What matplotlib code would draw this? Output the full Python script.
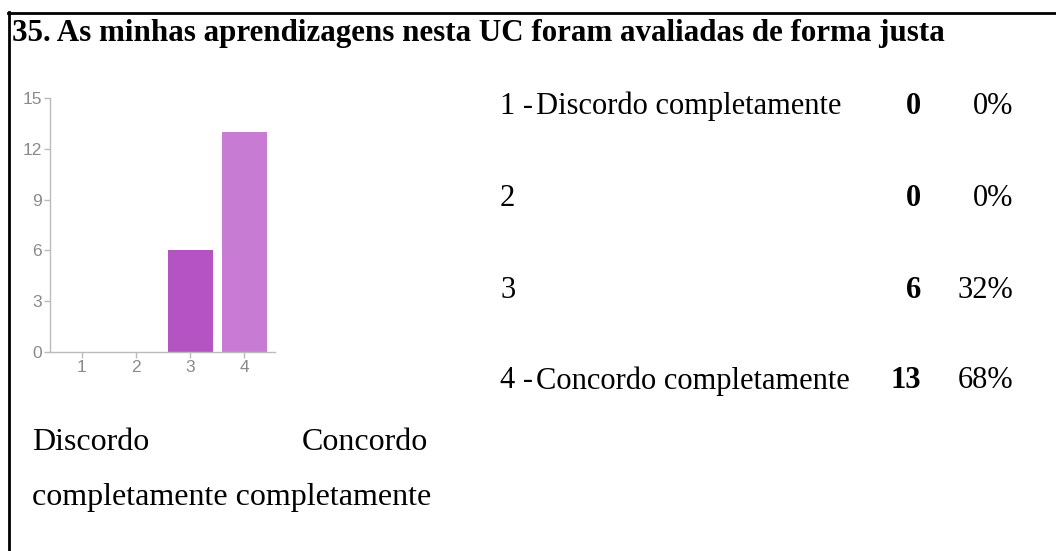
import matplotlib.pyplot as plt
from matplotlib.lines import Line2D

W, H = 1056, 551

title = "35. As minhas aprendizagens nesta UC foram avaliadas de forma justa"
categories = [1, 2, 3, 4]
counts = [0, 0, 6, 13]
bar_colors = ["#b553c5", "#b553c5", "#b553c5", "#c87bd3"]
row_labels = ["1 - Discordo completamente", "2", "3", "4 - Concordo completamente"]
percents = ["0%", "0%", "32%", "68%"]
yticks = [0, 3, 6, 9, 12, 15]


def fx(px):
    return px / W


def fy(py):
    return 1 - py / H


fig = plt.figure(figsize=(W / 100, H / 100), dpi=100)
serif = "Liberation Serif"
fs = 22

# frame lines (top + left only)
fig.add_artist(Line2D([fx(8), 1], [fy(12.5), fy(12.5)], color="black", lw=2))
fig.add_artist(Line2D([fx(8.5), fx(8.5)], [fy(12), 0], color="black", lw=2))

fig.text(fx(12), fy(33), title, family=serif, fontweight="bold", fontsize=22.3,
         va="center", ha="left")

# small bar chart
ax = fig.add_axes([fx(50), fy(352), fx(225), 254 / H])
ax.bar(categories, counts, width=0.83, color=bar_colors)
ax.set_xlim(0.41, 4.57)
ax.set_ylim(0, 15)
ax.set_xticks(categories)
ax.set_yticks(yticks)
for s in ["top", "right"]:
    ax.spines[s].set_visible(False)
for s in ["left", "bottom"]:
    ax.spines[s].set_color("#bbbbbb")
    ax.spines[s].set_linewidth(1)
ax.tick_params(colors="#bbbbbb", labelcolor="#8a8a8a", length=4, width=1,
               labelsize=12.5, pad=2)
for lab in ax.get_xticklabels() + ax.get_yticklabels():
    lab.set_family("Liberation Sans")

# summary table
row_y = [106, 198, 290, 381]
for lab, n, pct, y in zip(row_labels, counts, percents, row_y):
    if " - " in lab:
        num, txt = lab.split(" - ")
        fig.text(fx(500), fy(y), num + " -", family=serif, fontsize=fs,
                 va="center", ha="left")
        fig.text(fx(536), fy(y), txt, family=serif, fontsize=fs,
                 va="center", ha="left")
    else:
        fig.text(fx(500), fy(y), lab, family=serif, fontsize=fs,
                 va="center", ha="left")
    fig.text(fx(921), fy(y), str(n), family=serif, fontsize=fs,
             fontweight="bold", va="center", ha="right")
    fig.text(fx(1013), fy(y), pct, family=serif, fontsize=fs,
             va="center", ha="right")

# scale end labels
fig.text(fx(32), fy(443), "Discordo", family=serif, fontsize=23,
         va="center", ha="left")
fig.text(fx(428), fy(443), "Concordo", family=serif, fontsize=23,
         va="center", ha="right")
fig.text(fx(32), fy(497), "completamente completamente", family=serif,
         fontsize=23, va="center", ha="left")

fig.savefig("out.png", dpi=100)
